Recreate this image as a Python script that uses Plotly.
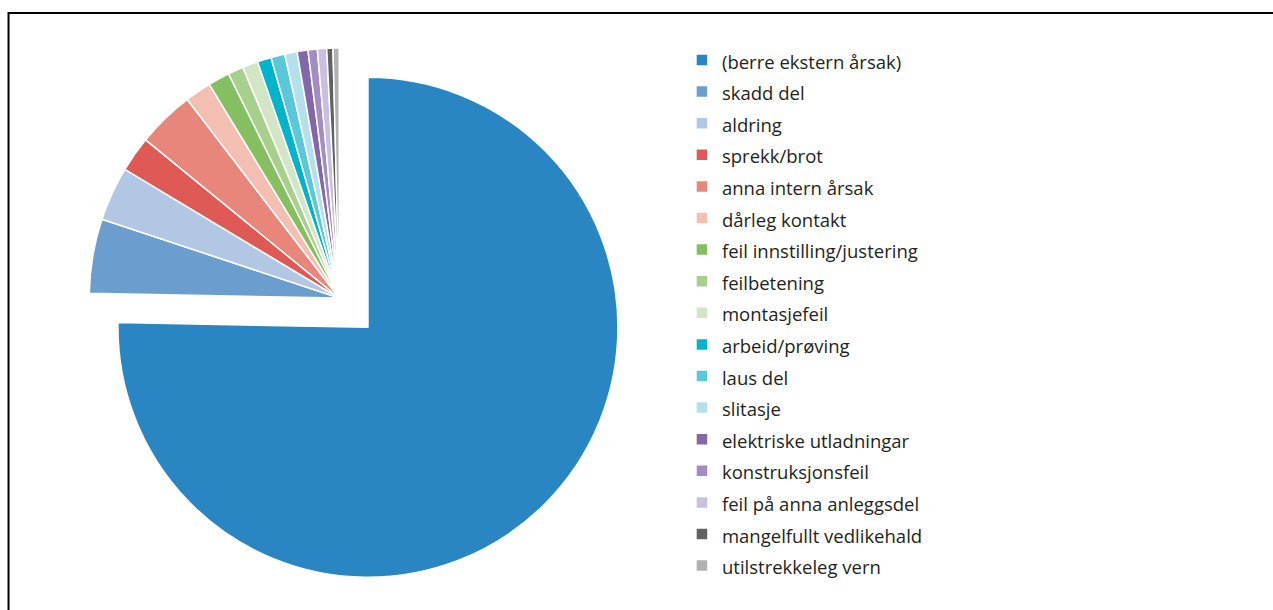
import plotly.graph_objects as go

labels = [
    "(berre ekstern årsak)", "skadd del", "aldring", "sprekk/brot",
    "anna intern årsak", "dårleg kontakt", "feil innstilling/justering",
    "feilbetening", "montasjefeil", "arbeid/prøving", "laus del", "slitasje",
    "elektriske utladningar", "konstruksjonsfeil", "feil på anna anleggsdel",
    "mangelfullt vedlikehald", "utilstrekkeleg vern",
]
values = [75.3, 4.8, 3.5, 2.3, 3.7, 1.7, 1.4, 1.0, 1.0, 0.9, 0.9, 0.8, 0.7, 0.6, 0.6, 0.4, 0.4]
colors = [
    "#2986c2", "#6b9ecf", "#b2c7e4", "#e05a55", "#e8867b", "#f3bfb3",
    "#84bf60", "#a8d08d", "#d2e5c4", "#00b4cc", "#5ac8d8", "#b3e0ea",
    "#8268ab", "#a28cc1", "#cbbfdf", "#616161", "#b1b1b4",
]
pulls = [0.164] + [0] * (len(labels) - 1)

legend_labels = ["<span style='font-size:18.5px'>%s</span>" % l for l in labels]

fig = go.Figure(go.Pie(
    labels=legend_labels,
    values=values,
    sort=False,
    direction="clockwise",
    rotation=0,
    pull=pulls,
    textinfo="none",
    marker=dict(colors=colors, line=dict(color="white", width=1.5)),
    domain=dict(x=[0.0379, 0.4951], y=[0.0344, 0.9885]),
    hoverinfo="label+percent",
))

fig.update_layout(
    width=1273, height=610,
    margin=dict(l=0, r=0, t=0, b=0),
    paper_bgcolor="white",
    plot_bgcolor="white",
    font=dict(family="Open Sans, sans-serif", color="#231f20"),
    showlegend=True,
    legend=dict(
        x=0.5357, y=0.9357, xanchor="left", yanchor="top",
        font=dict(size=22, color="#231f20", family="Open Sans, sans-serif"),
        bgcolor="rgba(0,0,0,0)",
    ),
    shapes=[
        dict(type="line", xref="paper", yref="paper", x0=0.0063, x1=1.0,
             y0=1 - 13 / 610, y1=1 - 13 / 610, line=dict(color="black", width=2)),
        dict(type="line", xref="paper", yref="paper", x0=0.0067, x1=0.0067,
             y0=0, y1=1 - 12 / 610, line=dict(color="black", width=2)),
    ],
)

fig.write_html("out.html")
